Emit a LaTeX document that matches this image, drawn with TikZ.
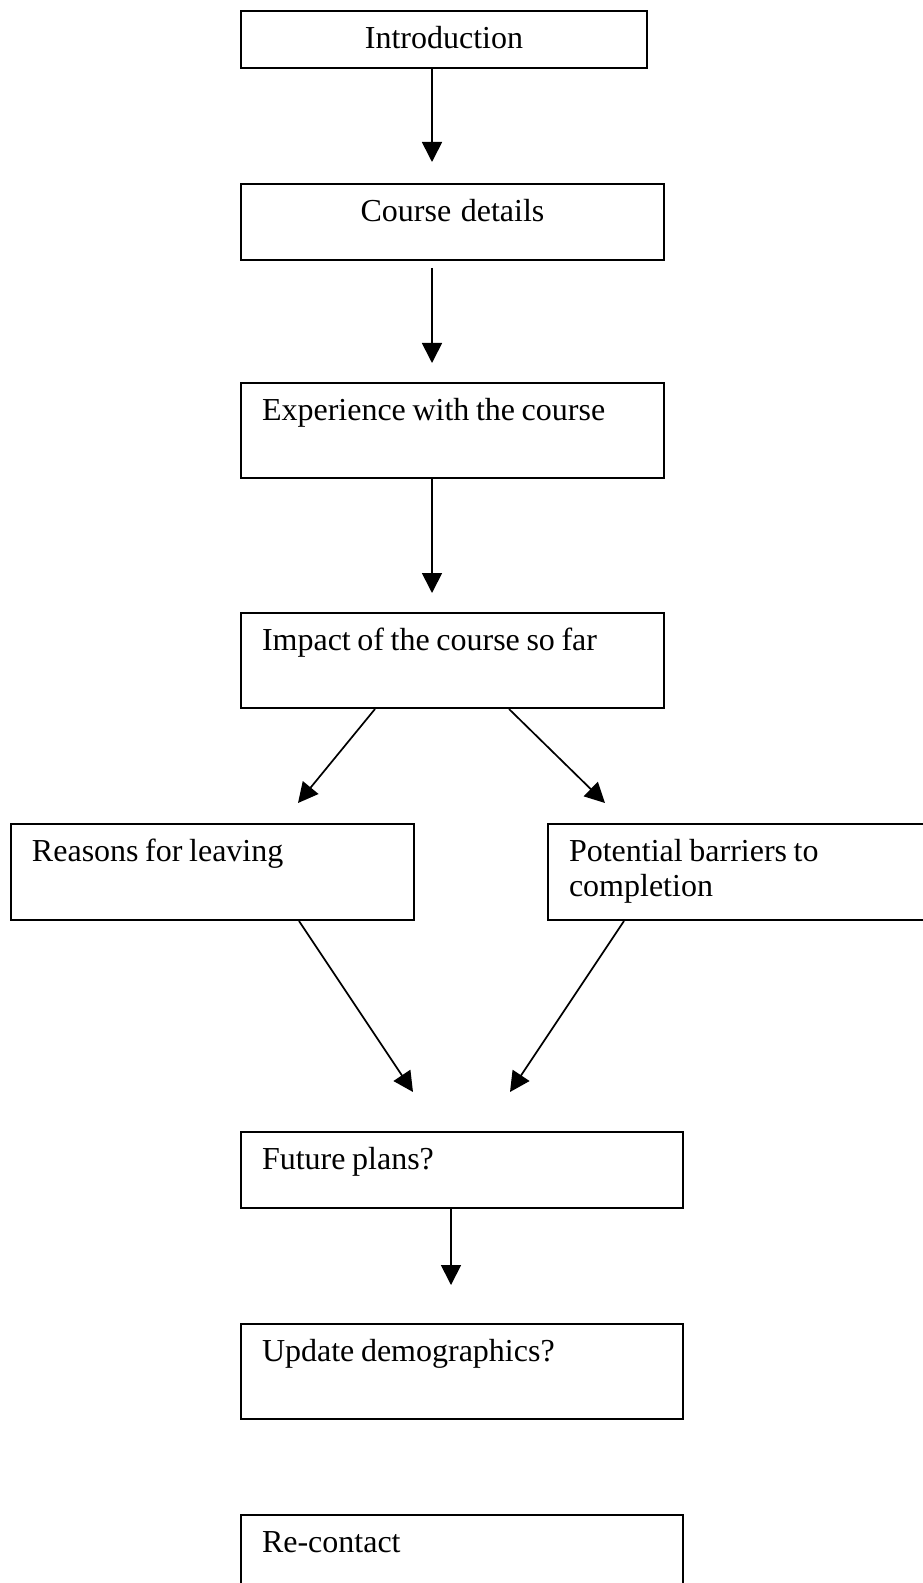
\documentclass[tikz,border=0pt]{standalone}
\usepackage{fontspec}
\setmainfont{Liberation Serif}
\usetikzlibrary{arrows.meta}
\newcommand\boxfont{\fontsize{16}{17.5}\selectfont}

\begin{document}
\begin{tikzpicture}[x=0.5pt,y=-0.5pt,
                    box/.style={draw,line width=1pt,anchor=north west,
                                inner xsep=10.5pt,inner ysep=0pt,
                                text height=18.8pt,align=left,font=\boxfont,
                                execute at begin node={\spaceskip=3.3pt plus 1pt minus 0.5pt\relax}},
                    flow/.style={-{Triangle[length=10pt,width=10pt]},line width=0.85pt}]
\useasboundingbox (0,0) rectangle (922,1583);
% The boxes, from top to bottom:
\node [box,align=center,text width=182pt,text depth=9.7pt] (intro) at (240,10) {Introduction};
\node [box,align=center,text width=190.5pt,text depth=19.2pt] (details) at (240,183) {Course details};
\node [box,text width=190.5pt,text depth=28.7pt] (experience) at (240,382) {Experience with the course};
\node [box,text width=190.5pt,text depth=28.7pt] (impact) at (240,612) {Impact of the course so far};
\node [box,text width=180.5pt,text depth=29.2pt] (leaving) at (10,823) {Reasons for leaving};
\node [box,text width=204pt,text depth=29.2pt] (barriers) at (547,823) {Potential barriers to\\completion};
\node [box,text width=200pt,text depth=19.2pt] (plans) at (240,1131) {Future plans?};
\node [box,text width=200pt,text depth=28.7pt] (demographics) at (240,1323) {Update demographics?};
\node [box,text width=200pt,text depth=29.2pt] (recontact) at (240,1514) {Re-contact};
%
% Arrows: source box / start x / gap below it / tip
\foreach \from/\sx/\gap/\tx/\ty [count=\i] in
    {intro/432/0/432/162, details/432/7/432/363, experience/432/0/432/593,
     impact/375/0/298/803, impact/509/0/605/803,
     leaving/299/0/413/1092, barriers/624/0/510/1092, plans/451/0/451/1285}
{
  \coordinate (tip \i) at (\tx,\ty);
  \draw [flow] (\from.south -| \sx,0) ++(0,\gap) -- (tip \i);
}
\end{tikzpicture}
\end{document}
